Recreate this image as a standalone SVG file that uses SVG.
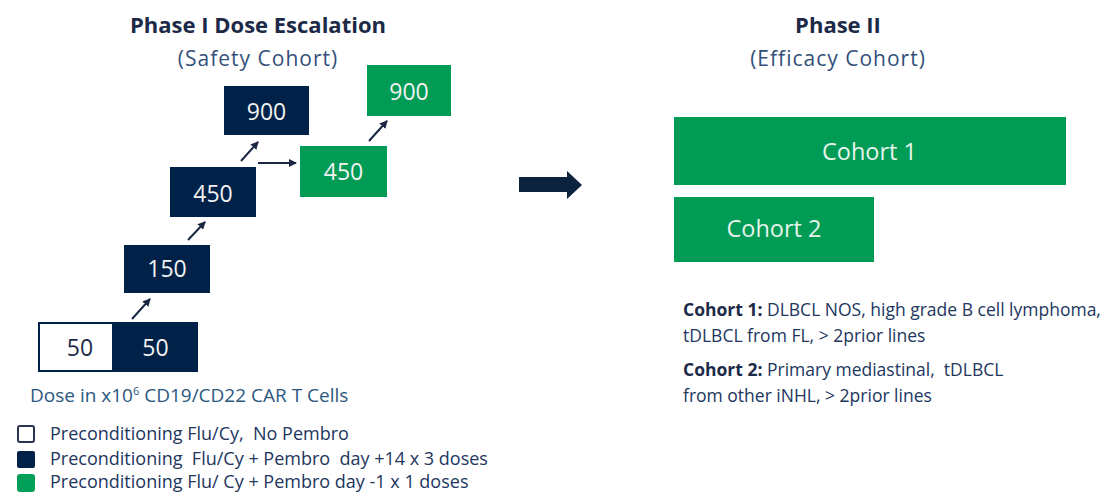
<svg xmlns="http://www.w3.org/2000/svg" width="1111" height="492" viewBox="0 0 1111 492">
<defs>
<style>
text{font-family:"Open Sans","Noto Sans","Liberation Sans",sans-serif;white-space:pre}
.navy{fill:#012248}
.green{fill:#009b55}
.num{fill:#f2f2f2;font-size:23px;text-anchor:middle}
.title{fill:#1c2a48;font-size:22px;font-weight:bold;text-anchor:middle}
.sub{fill:#34507a;font-size:21px;letter-spacing:1px;text-anchor:middle}
.coh{fill:#e6f4ec;font-size:23.5px;text-anchor:middle}
.desc{fill:#22365e;font-size:17.5px}
.desc tspan.b{font-weight:bold;fill:#1b2a48}
.leg{fill:#22365e;font-size:18px}
.conn line{stroke:#1a2744;stroke-width:2;marker-end:url(#ah)}
</style>
<marker id="ah" viewBox="0 0 8 8" refX="7" refY="4" markerWidth="8" markerHeight="8" markerUnits="userSpaceOnUse" orient="auto">
<path d="M0,0 L8,4 L0,8 z" fill="#1a2744"/>
</marker>
</defs>
<rect width="1111" height="492" fill="#ffffff"/>

<g id="phase1-title">
<text class="title" x="258" y="33">Phase I Dose Escalation</text>
<text class="sub" x="258" y="66">(Safety Cohort)</text>
</g>
<g id="phase2-title">
<text class="title" x="838" y="33">Phase II</text>
<text class="sub" x="838" y="66">(Efficacy Cohort)</text>
</g>

<g id="dose50-nopembro">
<rect x="39" y="323" width="74" height="48" fill="#ffffff" stroke="#012248" stroke-width="2"/>
<text class="num" x="80" y="356" style="fill:#1c2a48">50</text>
</g>
<g id="dose50-pembro">
<rect class="navy" x="113" y="322" width="85" height="50"/>
<text class="num" x="155.5" y="356">50</text>
</g>
<g id="dose150">
<rect class="navy" x="124" y="245" width="86" height="48"/>
<text class="num" x="167" y="277">150</text>
</g>
<g id="dose450">
<rect class="navy" x="170" y="167" width="86" height="50"/>
<text class="num" x="213" y="202">450</text>
</g>
<g id="dose900">
<rect class="navy" x="224" y="86" width="85" height="49"/>
<text class="num" x="266.5" y="120">900</text>
</g>
<g id="green450">
<rect class="green" x="300" y="146" width="87" height="51"/>
<text class="num" x="343.5" y="180">450</text>
</g>
<g id="green900">
<rect class="green" x="367" y="65" width="84" height="51"/>
<text class="num" x="409" y="100">900</text>
</g>

<g id="connectors" class="conn">
<line x1="132" y1="319" x2="150" y2="299"/>
<line x1="188" y1="240" x2="205" y2="222"/>
<line x1="241" y1="161" x2="258" y2="142"/>
<line x1="258" y1="163" x2="296" y2="163"/>
<line x1="369" y1="141" x2="387" y2="121"/>
</g>

<g id="phase-arrow">
<path d="M519,177 L567,177 L567,171 L582,185 L567,199 L567,192 L519,192 z" fill="#0c2340"/>
</g>

<g id="cohort1">
<rect class="green" x="674" y="117" width="392" height="68"/>
<text class="coh" x="869.5" y="160">Cohort 1</text>
</g>
<g id="cohort2">
<rect class="green" x="674" y="197" width="200" height="65"/>
<text class="coh" x="774" y="237">Cohort 2</text>
</g>

<g id="cohort-desc">
<text class="desc" x="683" y="316"><tspan class="b">Cohort 1:</tspan> DLBCL NOS, high grade B cell lymphoma,</text>
<text class="desc" x="683" y="342">tDLBCL from FL, &gt; 2prior lines</text>
<text class="desc" x="683" y="376"><tspan class="b">Cohort 2:</tspan> Primary mediastinal,  tDLBCL</text>
<text class="desc" x="683" y="402">from other iNHL, &gt; 2prior lines</text>
</g>

<g id="dose-note">
<text class="leg" x="30" y="402" style="fill:#2c5880;font-size:19px">Dose in x10<tspan font-size="11" dy="-7">6</tspan><tspan dy="7"> CD19/CD22 CAR T Cells</tspan></text>
</g>

<g id="legend">
<rect x="18" y="426" width="16" height="16" rx="2" fill="#ffffff" stroke="#2a3650" stroke-width="2"/>
<text class="leg" x="50" y="440">Preconditioning Flu/Cy,  No Pembro</text>
<rect x="17" y="451" width="18" height="17" rx="2" class="navy"/>
<text class="leg" x="50" y="465">Preconditioning  Flu/Cy + Pembro  day +14 x 3 doses</text>
<rect x="17" y="474" width="18" height="18" rx="3" fill="#00a05a"/>
<text class="leg" x="50" y="488">Preconditioning Flu/ Cy + Pembro day -1 x 1 doses</text>
</g>
</svg>
